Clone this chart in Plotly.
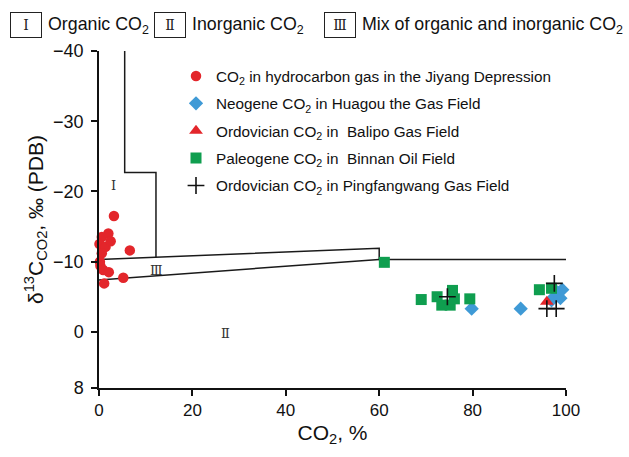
import plotly.graph_objects as go

# ---- sample data: CO2 content (%) vs. delta13C of CO2 (permil, PDB) ----
jiyang_co2 = [3.2, 0.6, 2.0, 0.1, 1.4, 2.5, 6.6, 0.6, 0.2, 0.3, 0.9, 2.1, 5.2, 1.1]
jiyang_d13c = [-16.5, -13.5, -14.0, -12.5, -12.1, -12.9, -11.6, -11.2, -10.0, -9.4, -8.8, -8.5, -7.7, -6.9]

huagou_co2 = [79.8, 90.3, 96.9, 97.5, 98.2, 98.8, 99.2, 100.1, 100.4, 100.6]
huagou_d13c = [-3.3, -3.3, -4.5, -5.0, -5.6, -4.8, -6.0, -7.0, -7.7, -5.1]

balipo_co2 = [95.9]
balipo_d13c = [-4.3]

binnan_co2 = [61.1, 69.0, 72.4, 73.4, 75.2, 75.7, 76.1, 79.4, 94.3, 96.9]
binnan_d13c = [-9.9, -4.6, -5.0, -3.8, -3.8, -5.9, -4.7, -4.7, -6.0, -6.2]

pingfangwang_co2 = [74.6, 97.5, 95.9, 97.9]
pingfangwang_d13c = [-5.0, -6.9, -3.3, -3.3]

# ---- genetic zone boundaries ----
zone1_x = [5.5, 5.5, 12.2, 12.2]
zone1_y = [-40, -22.7, -22.7, -10.6]
upper_x = [0, 60, 60, 100]
upper_y = [-10.3, -11.9, -10.3, -10.3]
lower_x = [0, 60]
lower_y = [-7.4, -10.3]

y_ticks = [-40, -30, -20, -10, 0, 8]
x_ticks = [0, 20, 40, 60, 80, 100]

FONT = "Arial, Liberation Sans, sans-serif"
SERIF = "DejaVu Serif, Liberation Serif, serif"

W, H = 629, 457
L, R, T, B = 99, 63, 51, 69


def px(xp):
    return (xp - L) / (W - L - R)


def py(yp):
    return (H - B - yp) / (H - T - B)


fig = go.Figure()

for bx, by in [(zone1_x, zone1_y), (upper_x, upper_y), (lower_x, lower_y)]:
    fig.add_trace(go.Scatter(x=bx, y=by, mode="lines", showlegend=False,
                             line=dict(color="#1a1a1a", width=1.5),
                             hoverinfo="skip", cliponaxis=False))

series = [
    ("CO<sub>2</sub> in hydrocarbon gas in the Jiyang Depression", jiyang_co2, jiyang_d13c,
     dict(symbol="circle", size=10.5, color="#e3262b")),
    ("Neogene CO<sub>2</sub> in Huagou the Gas Field", huagou_co2, huagou_d13c,
     dict(symbol="diamond", size=11, color="#3f9ad6")),
    ("Ordovician CO<sub>2</sub> in  Balipo Gas Field", balipo_co2, balipo_d13c,
     dict(symbol="triangle-up", size=12, color="#e3262b")),
    ("Paleogene CO<sub>2</sub> in  Binnan Oil Field", binnan_co2, binnan_d13c,
     dict(symbol="square", size=11, color="#0f9e4f")),
    ("Ordovician CO<sub>2</sub> in Pingfangwang Gas Field", pingfangwang_co2, pingfangwang_d13c,
     dict(symbol="cross-thin", size=12, color="#111111", line=dict(color="#111111", width=1.6))),
]

for i, (name, xs, ys, mk) in enumerate(series):
    fig.add_trace(go.Scatter(x=xs, y=ys, mode="markers", name=name, marker=mk,
                             legendgroup=f"g{i}", cliponaxis=False))

# zone labels inside the plot
for txt, x, y in [("Ⅰ", 3.0, -20.8), ("Ⅲ", 12.4, -8.8), ("Ⅱ", 27.0, 0.2)]:
    fig.add_annotation(x=x, y=y, text=txt, showarrow=False,
                       font=dict(family=SERIF, size=13, color="#333333"))

# key for the zone numerals above the plot
key = [
    ("Ⅰ", 26, "Organic CO<sub>2</sub>", 46),
    ("Ⅱ", 169.5, "Inorganic CO<sub>2</sub>", 190),
    ("Ⅲ", 339.5, "Mix of organic and inorganic CO<sub>2</sub>", 360),
]
for num, cx, label, lx in key:
    fig.add_annotation(xref="paper", yref="paper", x=px(cx), y=py(25),
                       xanchor="center", yanchor="middle",
                       text=num, showarrow=False, width=30, height=24,
                       bordercolor="#222222", borderwidth=1, borderpad=0,
                       font=dict(family=SERIF, size=14, color="#222222"))
    fig.add_annotation(xref="paper", yref="paper", x=px(lx), y=py(25),
                       xanchor="left", yanchor="middle", text=label, showarrow=False,
                       font=dict(family=FONT, size=17.8, color="#111111"))

fig.update_layout(
    width=W, height=H,
    margin=dict(l=L, r=R, t=T, b=B),
    paper_bgcolor="white", plot_bgcolor="white",
    font=dict(family=FONT, color="#111111"),
    legend=dict(x=px(176), y=py(59.5), xanchor="left", yanchor="top",
                traceorder="grouped", tracegroupgap=4.5,
                bgcolor="rgba(0,0,0,0)", font=dict(family=FONT, size=15.3, color="#111111")),
    xaxis=dict(range=[0, 100], tickvals=x_ticks, showgrid=False, zeroline=False,
               showline=True, linecolor="#111111", linewidth=1.5,
               ticks="outside", ticklen=6, tickcolor="#111111", tickwidth=1.5,
               tickfont=dict(size=17, family=FONT),
               title=dict(text="CO<sub>2</sub>, %", font=dict(size=21, family=FONT), standoff=6)),
    yaxis=dict(range=[8, -40], tickvals=y_ticks, showgrid=False, zeroline=False,
               showline=True, linecolor="#111111", linewidth=1.5,
               ticks="outside", ticklen=6, tickcolor="#111111", tickwidth=1.5,
               ticklabelstandoff=4,
               tickfont=dict(size=18, family=FONT),
               title=dict(text="δ<sup>13</sup>C<sub>CO2</sub>, ‰ (PDB)",
                          font=dict(size=21, family=FONT), standoff=4)),
)

fig.write_html("out.html")
